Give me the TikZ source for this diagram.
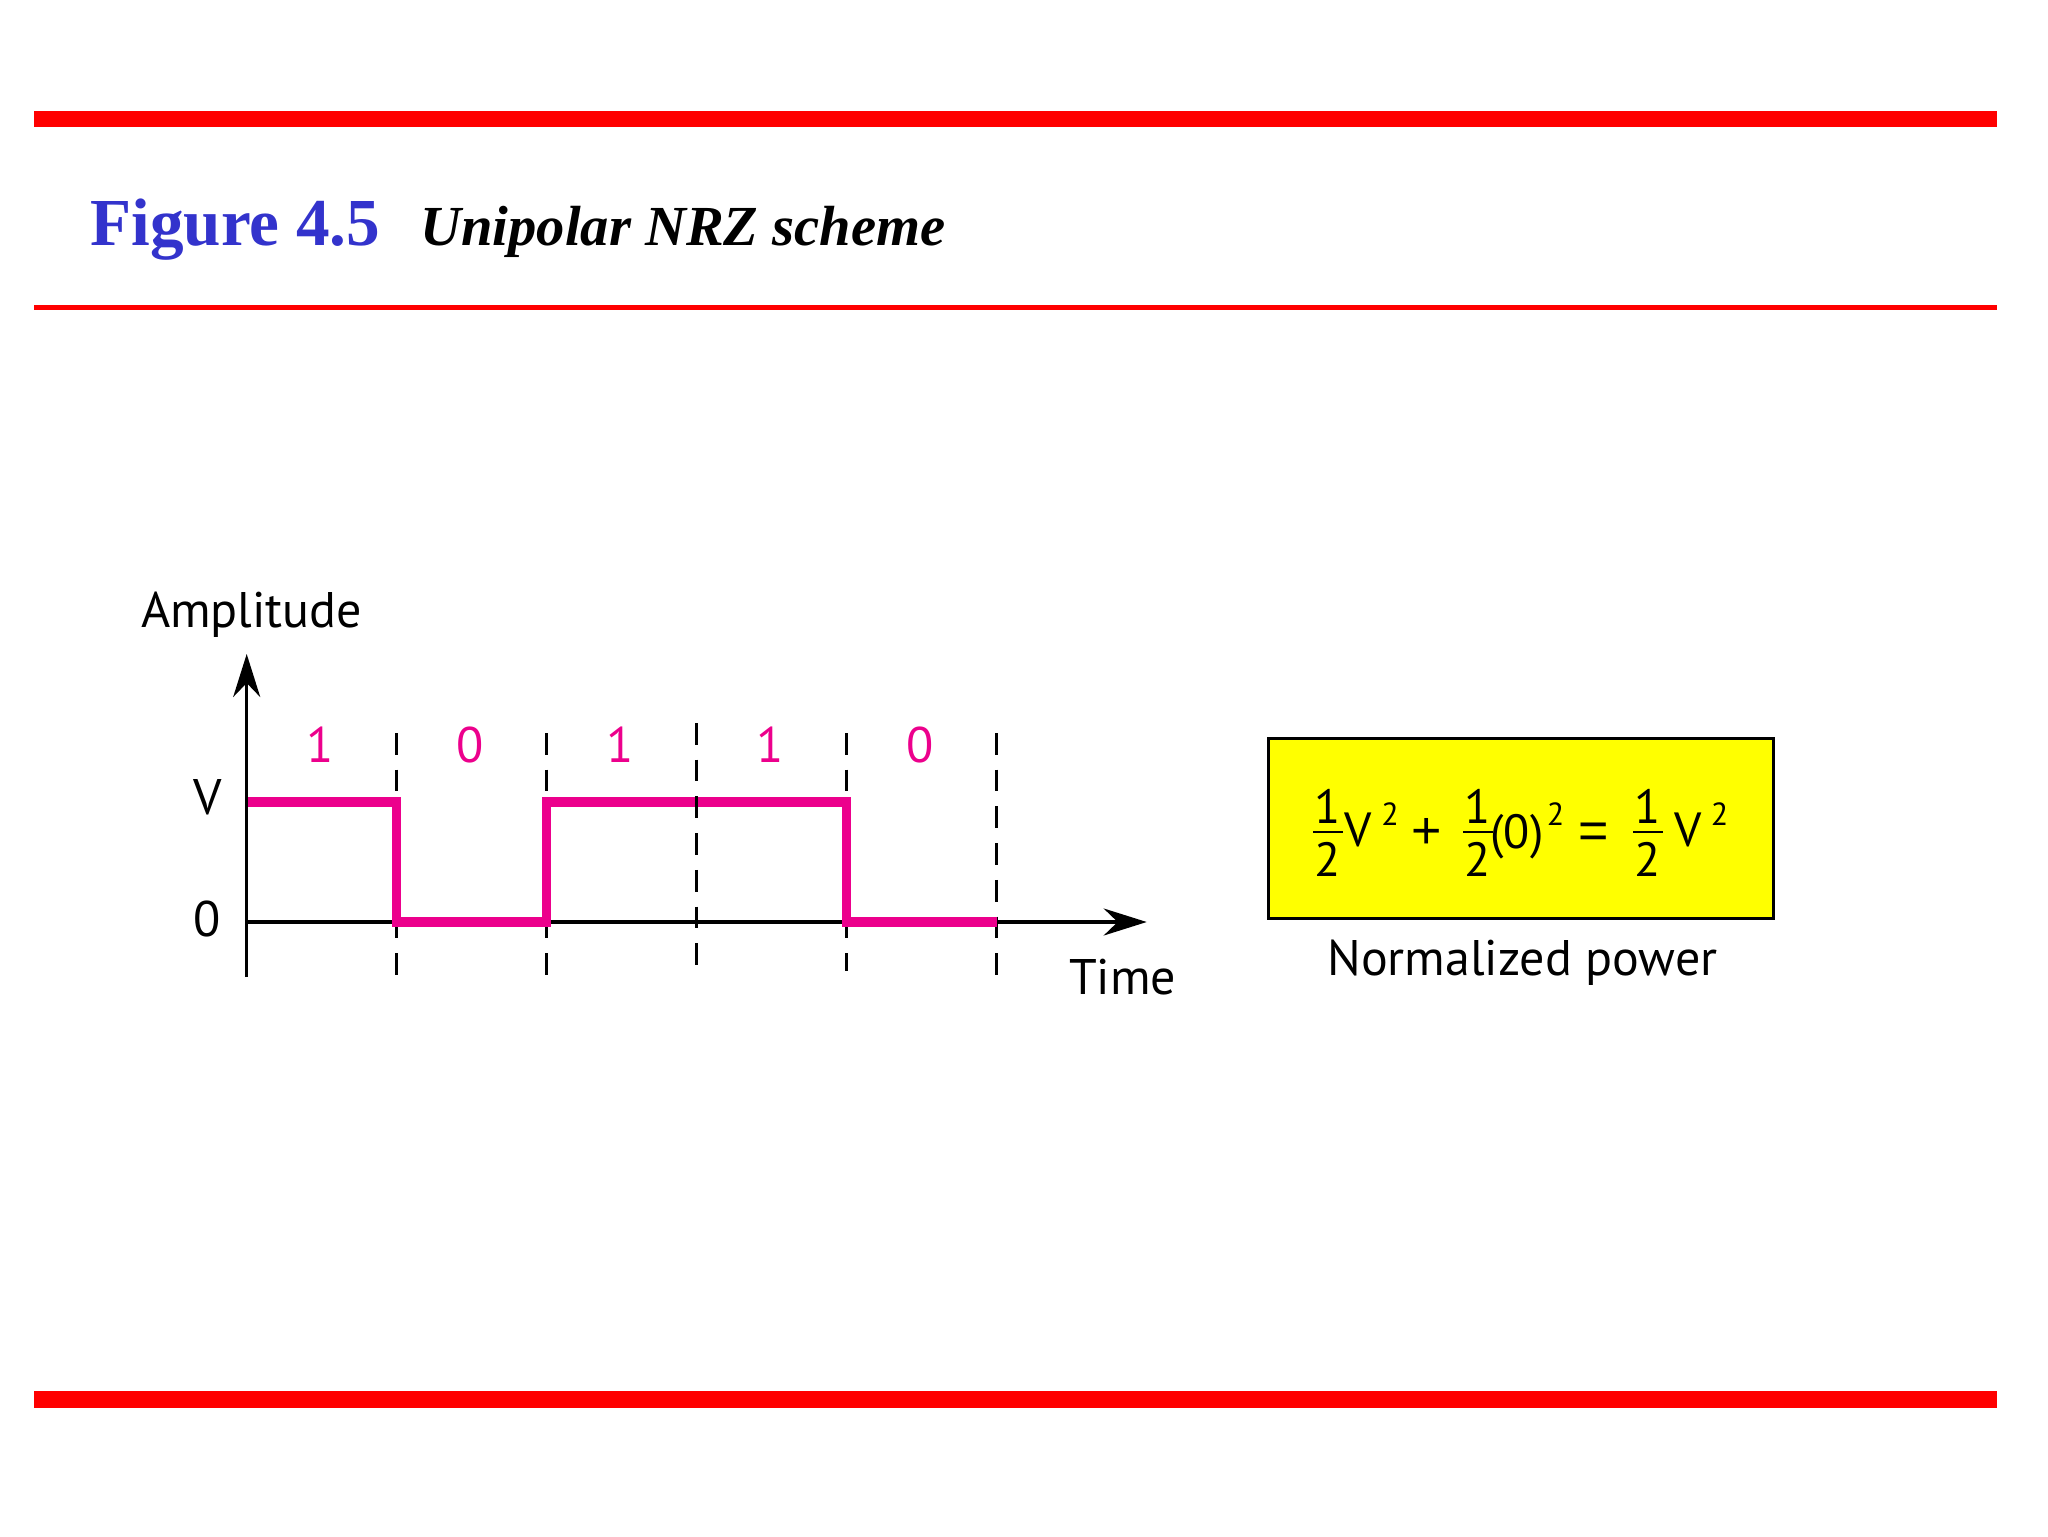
\documentclass[tikz,border=0pt]{standalone}
\usepackage{fontspec}
\setmainfont{PT Sans}
\newfontfamily\serifx{Liberation Serif}
\newfontfamily\oprfont{Liberation Sans}
\usetikzlibrary{arrows.meta}
\definecolor{barred}{RGB}{255,0,0}
\definecolor{figblue}{RGB}{51,51,204}
\definecolor{sigpink}{RGB}{236,0,140}
\definecolor{boxyellow}{RGB}{255,255,0}
\begin{document}
\begin{tikzpicture}[x=0.5pt,y=-0.5pt,
  lbl/.style={inner sep=0pt, outer sep=0pt, font=\fontsize{25}{29}\selectfont},
  bitlbl/.style={lbl, text=sigpink, anchor=base},
  eqn/.style={inner sep=0pt, outer sep=0pt, anchor=base, font=\fontsize{24}{27}\selectfont},
  opr/.style={inner sep=0pt, outer sep=0pt, anchor=base, font=\oprfont\fontsize{26}{30}\selectfont},
  suplbl/.style={inner sep=0pt, outer sep=0pt, anchor=base, font=\fontsize{16}{18}\selectfont},
  fracbar/.style={line width=1pt},
  axisline/.style={line width=1.7pt, -{Stealth[length=21.5pt,width=13.5pt]}},
  gridline/.style={line width=1.95pt, dash pattern=on 10.85pt off 7.5pt},
  signal/.style={line width=4.75pt, draw=sigpink, line join=miter}
]
\useasboundingbox (0,0) rectangle (2048,1536);
% red rules
\fill[barred] (34,111) rectangle (1997,127);
\fill[barred] (34,305) rectangle (1997,309.5);
\fill[barred] (34,1391) rectangle (1997,1408);
% title
\node[inner sep=0pt, anchor=base west, text=figblue, font=\serifx\bfseries\fontsize{33.6}{38}\selectfont] (fig) at (90,245.7) {Figure 4.5};
\node[inner sep=0pt, anchor=base west, font=\serifx\bfseries\itshape\fontsize{28.3}{32}\selectfont] (cap) at (420,245.7) {Unipolar NRZ scheme};
% grid lines
\draw[gridline] (396.5,733) -- (396.5,975);
\draw[gridline] (546.5,733) -- (546.5,975);
\draw[gridline] (846.5,733) -- (846.5,971);
\draw[gridline] (996.5,733) -- (996.5,975);
% axes
\coordinate (ybot) at (246.7,977);
\coordinate (ytop) at (246.7,654);
\coordinate (xorg) at (246.7,922);
\coordinate (xend) at (1146.7,922);
\draw[axisline] (ybot) -- (ytop);
\draw[axisline] (xorg) -- (xend);
% signal
\draw[signal] (248,802) -- (396.5,802) -- (396.5,922) -- (546.5,922) -- (546.5,802) -- (846.5,802) -- (846.5,922) -- (996.5,922);
\draw[gridline] (696.5,723) -- (696.5,965);
% axis labels
\node[lbl, anchor=base west] (amp) at (141,627.3) {Amplitude};
\node[lbl, anchor=base] (vlab) at (208,814) {V};
\node[lbl, anchor=base] (zlab) at (207,936) {0};
\node[lbl, anchor=base west] (time) at (1069,994) {Time};
% bits
\node[bitlbl] (b1) at (320,762) {1};
\node[bitlbl] (b2) at (470.5,762) {0};
\node[bitlbl] (b3) at (620,762) {1};
\node[bitlbl] (b4) at (770,762) {1};
\node[bitlbl] (b5) at (920,762) {0};
% power box
\draw[line width=1.35pt, fill=boxyellow] (1268.7,738.7) rectangle (1773.7,918.7);
\node[eqn] (f1n) at (1328,823) {1};
\draw[fracbar] (1313,831.7) -- (1343,831.7);
\node[eqn] (f1d) at (1328,876.7) {2};
\node[eqn] (v1) at (1358,846.7) {V};
\node[suplbl] (s1) at (1390,825) {2};
\node[opr] (plus) at (1426.7,848) {+};
\node[eqn] (f2n) at (1478,823) {1};
\draw[fracbar] (1463,831.7) -- (1493,831.7);
\node[eqn] (f2d) at (1478,876.7) {2};
\node[eqn] (par) at (1517,848) {(0)};
\node[suplbl] (s2) at (1555.5,825) {2};
\node[opr] (eq) at (1593.5,848) {=};
\node[eqn] (f3n) at (1648,823) {1};
\draw[fracbar] (1633,831.7) -- (1663,831.7);
\node[eqn] (f3d) at (1648,876.7) {2};
\node[eqn] (v3) at (1688,846.7) {V};
\node[suplbl] (s3) at (1719.5,825) {2};
\node[lbl, anchor=base] (np) at (1522.5,975) {Normalized power};
\end{tikzpicture}
\end{document}
